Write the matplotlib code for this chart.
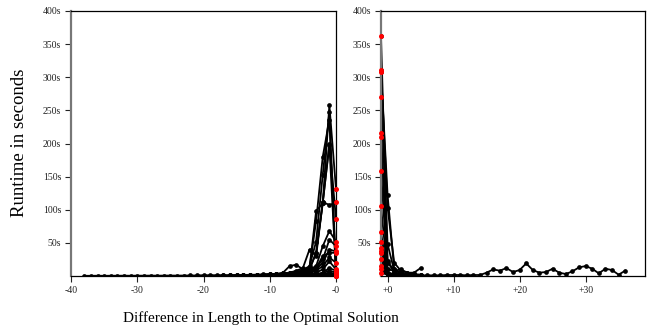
import matplotlib
matplotlib.use("Agg")
import matplotlib.pyplot as plt

plt.rcParams['font.family'] = ['Liberation Serif', 'DejaVu Serif']

# left panel: runs that end at the optimum (x = 0), listed from their start x
left_starts = [-38, -21, -16, -14, -12, -11, -10, -9, -9, -8, -8, -7, -7, -6, -6, -5, -4, -3, -2, -1]
left_a = [0.3, 0.3, 0.4, 0.3, 0.4, 0.4, 0.5, 0.4, 0.5, 0.5, 0.6, 0.5, 0.6, 0.7, 0.6, 0.7, 0.8, 0.8,
          0.9, 1.0, 1.0, 1.2, 1.3, 1.5, 1.6, 1.8, 2.0, 2.3,
          3, 2, 4, 5, 3, 6, 10, 35, 110, 258, 131]
left_b = [0.5, 0.6, 0.6, 0.7, 0.8, 0.8, 0.9, 1.0, 1.1, 1.3, 1.5, 2, 2.5, 3, 4, 6, 9, 15, 52, 153, 247, 8]
left_c = [0.8, 0.9, 1.0, 1.2, 1.4, 1.6, 2.0, 2.5, 3, 4, 5, 7, 12, 83, 180, 236, 2]
left_d = [1, 1.2, 1.5, 2, 2.5, 3, 5, 15, 17, 10, 12, 98, 110, 200, 86]
left_e = [1.5, 2, 2.5, 3, 4, 5, 8, 12, 40, 30, 111, 197, 5]
left_f = [1, 1.5, 2, 3, 4, 6, 8, 10, 35, 112, 107, 111]
left_g = [2, 2, 3, 4, 5, 6, 10, 15, 45, 68, 52]
left_h = [1, 2, 2, 3, 4, 8, 12, 25, 55, 45]
left_i = [1, 1, 2, 3, 4, 6, 10, 20, 40, 37]
left_j = [1, 2, 3, 5, 8, 12, 30, 35, 35]
left_k = [1, 1, 2, 3, 5, 8, 15, 28, 20]
left_l = [1, 1, 2, 3, 5, 10, 22, 10]
left_m = [0.5, 1, 1, 2, 3, 5, 12, 8]
left_n = [0.5, 1, 1, 2, 4, 8, 5]
left_o = [0.5, 0.5, 1, 1, 2, 5, 3]
left_p = [0.5, 0.5, 1, 1, 3, 2]
left_q = [0.5, 0.5, 1, 2, 1]
left_r = [0.3, 0.5, 1, 0.5]
left_s = [0.3, 0.5, 0.2]
left_t = [0.3, 0.1]
left_runs = [left_a, left_b, left_c, left_d, left_e, left_f, left_g, left_h, left_i, left_j,
             left_k, left_l, left_m, left_n, left_o, left_p, left_q, left_r, left_s, left_t]

# right panel: runs that start just below the optimum (x = -1)
right_a = [362, 20, 10, 5, 3, 2, 1]
right_b = [311, 103, 20, 8, 5, 3, 2]
right_c = [308, 122, 10, 5, 3, 2]
right_d = [270, 48, 8, 4, 2]
right_e = [216, 22, 5, 3]
right_f = [210, 10, 8, 10, 5, 5, 12]
right_g = [158, 5, 3, 2]
right_h = [105, 3, 2]
right_i = [66, 2, 1]
right_j = [52, 2]
right_k = [42, 1]
right_l = [38, 1]
right_m = [35, 1]
right_n = [25, 0.5]
right_o = [15, 0.5]
right_p = [10, 0.5]
right_q = [5, 2, 1, 1, 1, 1, 1, 1, 1, 1, 1.5, 1.5, 1.5, 1, 1.5, 1.5,
           5, 10, 8, 12, 6, 9, 19, 9, 5, 6, 11, 5, 3, 7, 13, 15, 11, 4, 11, 9, 2, 8]
right_runs = [right_a, right_b, right_c, right_d, right_e, right_f, right_g, right_h, right_i,
              right_j, right_k, right_l, right_m, right_n, right_o, right_p, right_q]

y_ticks = [50, 100, 150, 200, 250, 300, 350, 400]
left_xticks = [-40, -30, -20, -10, 0]
left_xlabels = ["-40", "-30", "-20", "-10", "-0"]
right_xticks = [0, 10, 20, 30]
right_xlabels = ["+0", "+10", "+20", "+30"]

fig = plt.figure(figsize=(6.53, 3.33), dpi=100)
ax1 = fig.add_axes([71 / 653, 57 / 333, 265 / 653, 265 / 333])
ax2 = fig.add_axes([381 / 653, 57 / 333, 264 / 653, 265 / 333])

line_kw = dict(color='black', lw=1.3, marker='o', ms=3.4, mew=0)
red_kw = dict(color='red', marker='o', ms=3.6, mew=0, ls='none', zorder=5, clip_on=False)

for start, run in zip(left_starts, left_runs):
    xs = list(range(start, start + len(run)))
    ax1.plot(xs, run, **line_kw)
for start, run in zip(left_starts, left_runs):
    ax1.plot([0], [run[-1]], **red_kw)

for run in right_runs:
    xs = list(range(-1, -1 + len(run)))
    ax2.plot(xs, run, **line_kw)
for run in right_runs:
    ax2.plot([-1], [run[0]], **red_kw)

ax1.set_xlim(-40, 0)
ax2.set_xlim(-1, 39)
ax1.set_xticks(left_xticks, left_xlabels)
ax2.set_xticks(right_xticks, right_xlabels)

for ax in (ax1, ax2):
    ax.set_ylim(0, 400)
    ax.set_yticks(y_ticks, [f"{v}s" for v in y_ticks])
    ax.tick_params(labelsize=7, length=4, width=0.8, pad=3, colors='#222222')
    for side in ('top', 'right', 'bottom'):
        ax.spines[side].set_linewidth(0.9)
    ax.spines['left'].set_color('#777777')
    ax.spines['left'].set_linewidth(1.6)

fig.text(20 / 653, 1 - 143 / 333, "Runtime in seconds", rotation=90,
         ha='center', va='center', fontsize=13.5)
fig.text(261 / 653, 1 - 318 / 333, "Difference in Length to the Optimal Solution",
         ha='center', va='center', fontsize=11)

fig.savefig("out.png", dpi=100)
